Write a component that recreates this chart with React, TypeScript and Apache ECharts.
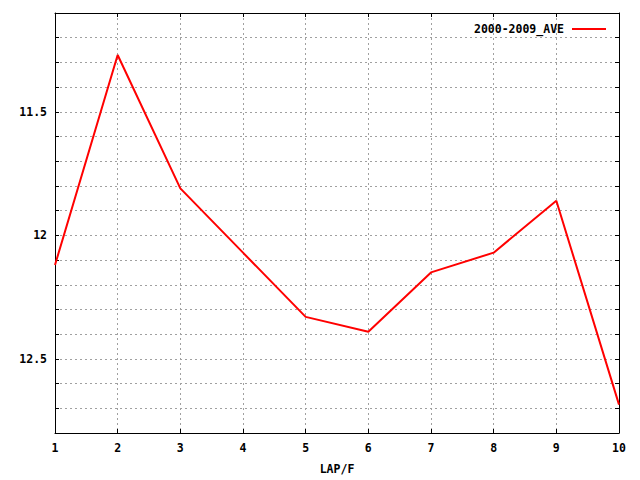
import React, { useEffect, useRef } from "react";
import * as echarts from "echarts";

const categories = [1, 2, 3, 4, 5, 6, 7, 8, 9, 10];
const seriesName = "2000-2009_AVE";
const values = [12.12, 11.27, 11.81, 12.07, 12.33, 12.39, 12.15, 12.07, 11.86, 12.685];
const yMin = 11.1;
const yMax = 12.8;
const yLabelValues = [11.5, 12, 12.5];
const xName = "LAP/F";

const FONT = "DejaVu Sans Mono";

export default function App() {
  const ref = useRef<HTMLDivElement>(null);
  useEffect(() => {
    if (!ref.current) return;
    const chart = echarts.init(ref.current, undefined, { renderer: "svg" });
    const labelStyle = { fontFamily: FONT, fontWeight: "bold" as const, fontSize: 11.5, color: "#000" };
    const grid = { left: 55, right: 21, top: 13, bottom: 40, containLabel: false };
    const tickInside = { show: true, inside: true, length: 4, lineStyle: { color: "#000", width: 1 } };
    const dashed = { show: true, lineStyle: { color: "#a0a0a0", type: [2, 3] as any, width: 1 } };
    const data = categories.map((c, i) => [c, values[i]]);
    chart.setOption({
      animation: false,
      backgroundColor: "#fff",
      grid,
      legend: {
        show: true,
        right: 29,
        top: 18,
        align: "right",
        icon: "rect",
        itemWidth: 34,
        itemHeight: 2,
        textStyle: { ...labelStyle, padding: [0, 3, 0, 0] },
        data: [seriesName],
      },
      xAxis: [
        {
          type: "value",
          min: 1,
          max: 10,
          interval: 1,
          position: "bottom",
          name: xName,
          nameLocation: "middle",
          nameGap: 30,
          nameTextStyle: { ...labelStyle },
          axisLine: { show: true, lineStyle: { color: "#000", width: 1 } },
          axisTick: tickInside,
          axisLabel: { ...labelStyle, margin: 9 },
          splitLine: dashed,
        },
        {
          type: "value",
          min: 1,
          max: 10,
          interval: 1,
          position: "top",
          axisLine: { show: true, lineStyle: { color: "#000", width: 1 } },
          axisTick: tickInside,
          axisLabel: { show: false },
          splitLine: { show: false },
        },
      ],
      yAxis: [
        {
          type: "value",
          inverse: true,
          min: yMin,
          max: yMax,
          interval: 0.1,
          position: "left",
          axisLine: { show: true, lineStyle: { color: "#000", width: 1 } },
          axisTick: tickInside,
          axisLabel: {
            ...labelStyle,
            margin: 8,
            formatter: (v: number) => {
              const hit = yLabelValues.find((l) => Math.abs(l - v) < 1e-6);
              return hit !== undefined ? String(hit) : "";
            },
          },
          splitLine: dashed,
        },
        {
          type: "value",
          inverse: true,
          min: yMin,
          max: yMax,
          interval: 0.1,
          position: "right",
          axisLine: { show: true, lineStyle: { color: "#000", width: 1 } },
          axisTick: tickInside,
          axisLabel: { show: false },
          splitLine: { show: false },
        },
      ],
      series: [
        {
          name: seriesName,
          type: "line",
          data,
          xAxisIndex: 0,
          yAxisIndex: 0,
          symbol: "none",
          color: "#ff0000",
          lineStyle: { color: "#ff0000", width: 2 },
        },
      ],
    });
    return () => chart.dispose();
  }, []);
  return <div ref={ref} style={{ width: 640, height: 480, position: "absolute", left: 0, top: 0 }} />;
}
